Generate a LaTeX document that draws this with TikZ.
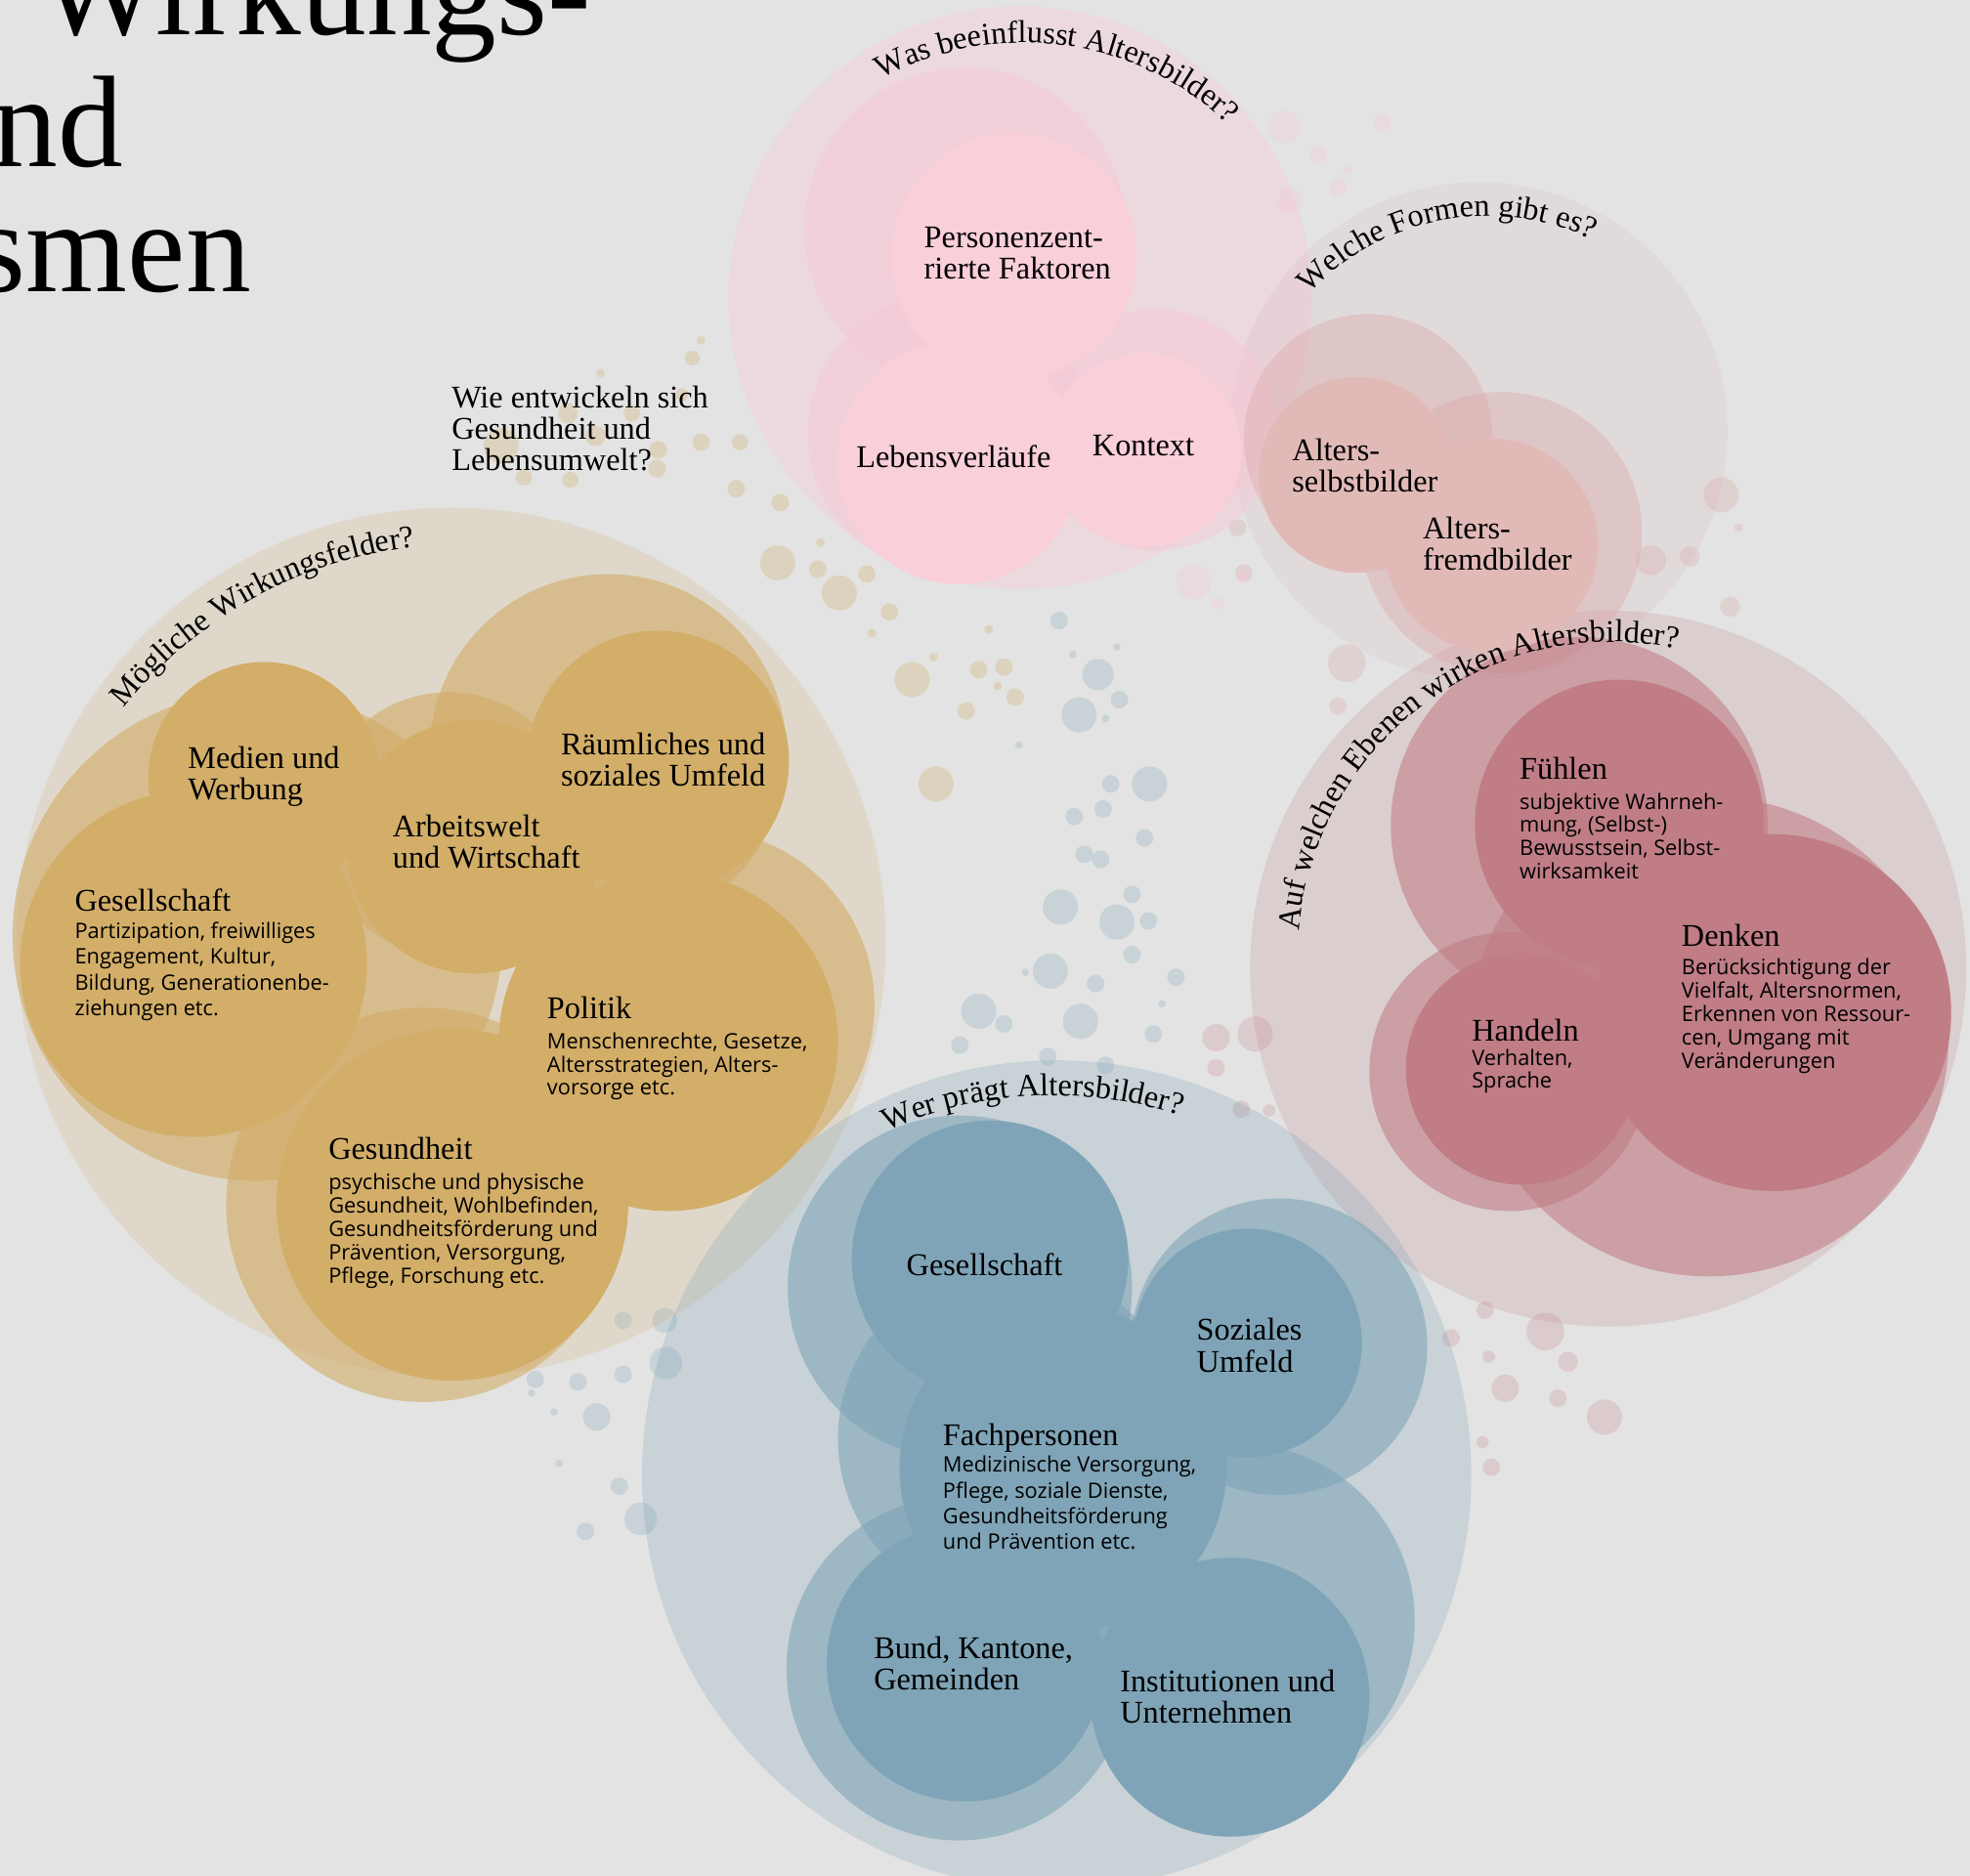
\documentclass[tikz,border=0pt]{standalone}
\usepackage{fontspec}
\setmainfont{Liberation Serif}
\newfontfamily\descfont{Open Sans}
\usetikzlibrary{calc,decorations.text}

\definecolor{grund}{HTML}{E3E3E3}
\definecolor{ocker}{HTML}{D2AC66}
\definecolor{ockerkern}{HTML}{D3AE69}
\definecolor{rosa}{HTML}{F7CAD7}
\definecolor{rosakern}{HTML}{F9CFDA}
\definecolor{altrosa}{HTML}{DBA8A9}
\definecolor{altrosakern}{HTML}{E1BAB8}
\definecolor{weinrot}{HTML}{BF7A82}
\definecolor{weinrotkern}{HTML}{C07D85}
\definecolor{blau}{HTML}{7AA2B5}
\definecolor{blaukern}{HTML}{7FA4B7}

% stacked lines, baseline at the first line
\newcommand{\zeilen}[1]{\begin{tabular}[t]{@{}l@{}}#1\end{tabular}}
\newcommand{\fragefont}{\fontsize{9.2}{9.2}\selectfont}

\begin{document}
\begin{tikzpicture}[
  x=0.012857cm, y=-0.012857cm,
  schicht/.style 2 args={fill=#1, fill opacity=#2},
  titel/.style={anchor=base west, inner sep=0, font=\fontsize{38}{38}\selectfont},
  feld/.style={anchor=base west, inner sep=0, font=\fontsize{9.2}{9}\selectfont},
  info/.style={anchor=base west, inner sep=0, font=\descfont\fontsize{6.2}{#1}\selectfont},
  frage/.style={decorate, decoration={text along path, text align=left, text={|\fragefont|#1}}}
]
\useasboundingbox (0,0) rectangle (1568,1493.33);
\clip (0,0) rectangle (1568,1493.33);
\fill[grund] (0,0) rectangle (1568,1493.33);

% small bubbles
\foreach \x/\y/\r in {558/271/3.5, 551/285/6, 478/297/3.5, 543/314/5, 452/329/8, 503/329/6.5,
    399/355/14, 474/347/8, 524/358/7, 558/352/7, 589/352/6.5, 523/373/7, 417/380/6.5,
    454/382/6.5, 586/389/7, 621/400/7, 619/448/14, 653/432/3.5, 651/453/7, 668/472/14,
    690/457/7, 708/487/7, 694/504/3.5, 726/541/14, 743/523/3.5, 779/533/7, 799/531/7,
    794/546/3.5, 808/555/7, 769/566/7, 787/501/3.5, 745/624/14}
  \fill[schicht={ocker}{0.3}] (\x,\y) circle[radius=\r];
\foreach \x/\y/\r in {843/494/7, 854/521/3, 889/515/3, 874/537/12.5, 891/557/7, 859/569/14,
    880/572/3, 811/593/3, 915/624/14, 884/624/7, 855/650/7, 878/644/7, 911/667/7, 863/680/7,
    876/684/7, 901/712/7, 844/722/14, 889/734/14, 914/733/7, 901/760/7, 836/773/14, 816/774/3,
    872/783/7, 936/778/7, 925/799/3, 779/805/14, 799/815/7, 860/813/14, 918/823/7, 764/832/7,
    834/841/7, 880/848/7,
    496/1051/7, 529/1051/10, 530/1085/13, 496/1094/7, 460/1100/7, 426/1098/7, 423/1109/3,
    441/1124/3, 475/1128/11, 445/1165/3, 493/1183/7, 510/1209/13, 466/1219/7}
  \fill[schicht={blau}{0.25}] (\x,\y) circle[radius=\r];
\foreach \x/\y/\r in {968/826/11, 999/823/14, 968/850/7, 988/883/7, 1010/884/5,
    1182/1043/7, 1230/1060/15, 1155/1065/7, 1185/1080/5, 1248/1084/8, 1198/1105/11,
    1240/1113/7, 1277/1128/14, 1180/1148/5, 1187/1168/7}
  \fill[schicht={weinrot}{0.22}] (\x,\y) circle[radius=\r];
\foreach \x/\y/\r in {1370/394/14, 1384/420/3.5, 1314/446/12, 1345/443/8, 1377/483/8,
    1072/528/15, 985/420/7, 990/456/7, 1065/562/7}
  \fill[schicht={altrosa}{0.3}] (\x,\y) circle[radius=\r];
\foreach \x/\y/\r in {1022/101/13, 1100/97/7, 1049/123/7, 1072/135/3.5, 1065/149/7,
    1027/160/10, 950/463/14, 969/480/5, 989/459/5}
  \fill[schicht={rosa}{0.35}] (\x,\y) circle[radius=\r];

% outer rings
\fill[schicht={ocker}{0.2}] (359,750) circle[radius=346];
\fill[schicht={rosa}{0.4}] (812,237) circle[radius=232];
\fill[schicht={altrosa}{0.15}] (1177,343) circle[radius=198];
\fill[schicht={weinrot}{0.2}] (1280,771) circle[radius=285];
\fill[schicht={blau}{0.25}] (841,1174) circle[radius=330];

% halos
\fill[schicht={ocker}{0.6}] (205,745) circle[radius=195];
\fill[schicht={ocker}{0.6}] (484,599) circle[radius=142];
\fill[schicht={ocker}{0.6}] (357,656) circle[radius=105];
\fill[schicht={ocker}{0.6}] (556,800) circle[radius=140];
\fill[schicht={ocker}{0.6}] (337,959) circle[radius=157];
\fill[schicht={rosa}{0.55}] (768,182) circle[radius=128];
\fill[schicht={rosa}{0.55}] (755,345) circle[radius=112];
\fill[schicht={rosa}{0.55}] (920,342) circle[radius=96];
\fill[schicht={altrosa}{0.4}] (1089,349) circle[radius=99];
\fill[schicht={altrosa}{0.4}] (1195,424) circle[radius=112];
\fill[schicht={weinrot}{0.55}] (1257,657) circle[radius=150];
\fill[schicht={weinrot}{0.55}] (1360,825) circle[radius=191];
\fill[schicht={weinrot}{0.55}] (1201,853) circle[radius=111];
\fill[schicht={blau}{0.55}] (764,1025) circle[radius=137];
\fill[schicht={blau}{0.55}] (1018,1072) circle[radius=118];
\fill[schicht={blau}{0.55}] (805,1145) circle[radius=138];
\fill[schicht={blau}{0.55}] (763,1328) circle[radius=137];
\fill[schicht={blau}{0.55}] (985,1290) circle[radius=141];

% cores
\fill[schicht={ockerkern}{1}] (210,619) circle[radius=92];
\fill[schicht={ockerkern}{1}] (524,606) circle[radius=104];
\fill[schicht={ockerkern}{1}] (377,674) circle[radius=101];
\fill[schicht={ockerkern}{1}] (154,767) circle[radius=138];
\fill[schicht={ockerkern}{1}] (532,829) circle[radius=135];
\fill[schicht={ockerkern}{1}] (360,959) circle[radius=140];
\fill[schicht={rosakern}{1}] (807,204) circle[radius=98];
\fill[schicht={rosakern}{1}] (763,368) circle[radius=97];
\fill[schicht={rosakern}{1}] (911,358) circle[radius=77];
\fill[schicht={altrosakern}{1}] (1080,378) circle[radius=78];
\fill[schicht={altrosakern}{1}] (1187,434) circle[radius=85];
\fill[schicht={weinrotkern}{1}] (1289,656) circle[radius=115];
\fill[schicht={weinrotkern}{1}] (1411,806) circle[radius=142];
\fill[schicht={weinrotkern}{1}] (1211,851) circle[radius=92];
\fill[schicht={blaukern}{1}] (788,1002) circle[radius=110];
\fill[schicht={blaukern}{1}] (993,1069) circle[radius=91];
\fill[schicht={blaukern}{1}] (846,1169) circle[radius=130];
\fill[schicht={blaukern}{1}] (768,1324) circle[radius=110];
\fill[schicht={blaukern}{1}] (979,1351) circle[radius=111];

% title
\node[titel] (titel1) at (30,28) {Wirkungs-};
\node[titel] (titel2) at (-6,133) {nd};
\node[titel] (titel3) at (-20,232) {smen};

% questions along the rings
\path[frage={Was beeinflusst Altersbilder?}]
  ($(815,270)+(-118.8:236)$) arc[start angle=-118.8, end angle=-20, radius=236];
\path[frage={Welche Formen gibt es?}]
  ($(1184,365)+(-137.3:193)$) arc[start angle=-137.3, end angle=-20, radius=193];
\path[frage={Auf welchen Ebenen wirken Altersbilder?}]
  ($(1284,762)+(-175.2:251)$) arc[start angle=-175.2, end angle=-40, radius=251];
\path[frage={Wer prägt Altersbilder?}]
  ($(839,1200)+(-113.9:328)$) arc[start angle=-113.9, end angle=-40, radius=328];
\path[frage={Mögliche Wirkungsfelder?}]
  ($(370,780)+(-141.4:347)$) arc[start angle=-141.4, end angle=-60, radius=347];

\node[feld] (entwicklung) at (359,325) {\zeilen{Wie entwickeln sich\\Gesundheit und\\Lebensumwelt?}};

% Wirkungsfelder
\node[feld] (medien) at (149,612) {\zeilen{Medien und\\Werbung}};
\node[feld] (raeumlich) at (446,601) {\zeilen{Räumliches und\\soziales Umfeld}};
\node[feld] (arbeitswelt) at (312,666) {\zeilen{Arbeitswelt\\und Wirtschaft}};
\node[feld] (gesellschaft) at (59,725) {Gesellschaft};
\node[info=7.5pt] (gesellschafttext) at (59,747) {\zeilen{Partizipation, freiwilliges\\Engagement, Kultur,\\Bildung, Generationenbe-\\ziehungen etc.}};
\node[feld] (politik) at (435,811) {Politik};
\node[info=6.6pt] (politiktext) at (435,835) {\zeilen{Menschenrechte, Gesetze,\\Altersstrategien, Alters-\\vorsorge etc.}};
\node[feld] (gesundheit) at (261,923) {Gesundheit};
\node[info=6.8pt] (gesundheittext) at (261,947) {\zeilen{psychische und physische\\Gesundheit, Wohlbefinden,\\Gesundheitsförderung und\\Prävention, Versorgung,\\Pflege, Forschung etc.}};

% Einflussfaktoren und Formen
\node[feld] (personen) at (735,197) {\zeilen{Personenzent-\\rierte Faktoren}};
\node[feld] (lebenslauf) at (681,372) {Lebensverläufe};
\node[feld] (kontext) at (869,363) {Kontext};
\node[feld] (selbstbild) at (1028,367) {\zeilen{Alters-\\selbstbilder}};
\node[feld] (fremdbild) at (1132,429) {\zeilen{Alters-\\fremdbilder}};

% Ebenen
\node[feld] (fuehlen) at (1209,620) {Fühlen};
\node[info=6.75pt] (fuehlentext) at (1209,644) {\zeilen{subjektive Wahrneh-\\mung, (Selbst-)\\Bewusstsein, Selbst-\\wirksamkeit}};
\node[feld] (denken) at (1338,753) {Denken};
\node[info=6.8pt] (denkentext) at (1338,776) {\zeilen{Berücksichtigung der\\Vielfalt, Altersnormen,\\Erkennen von Ressour-\\cen, Umgang mit\\Veränderungen}};
\node[feld] (handeln) at (1171,829) {Handeln};
\node[info=6.7pt] (handelntext) at (1171,848) {\zeilen{Verhalten,\\Sprache}};

% Akteure
\node[feld] (akteurgesellschaft) at (721,1015) {Gesellschaft};
\node[feld] (umfeld) at (952,1067) {\zeilen{Soziales\\Umfeld}};
\node[feld] (fachpersonen) at (750,1151) {Fachpersonen};
\node[info=7.5pt] (fachtext) at (750,1172) {\zeilen{Medizinische Versorgung,\\Pflege, soziale Dienste,\\Gesundheitsförderung\\und Prävention etc.}};
\node[feld] (bund) at (695,1320) {\zeilen{Bund, Kantone,\\Gemeinden}};
\node[feld] (institutionen) at (891,1347) {\zeilen{Institutionen und\\Unternehmen}};
\end{tikzpicture}
\end{document}
